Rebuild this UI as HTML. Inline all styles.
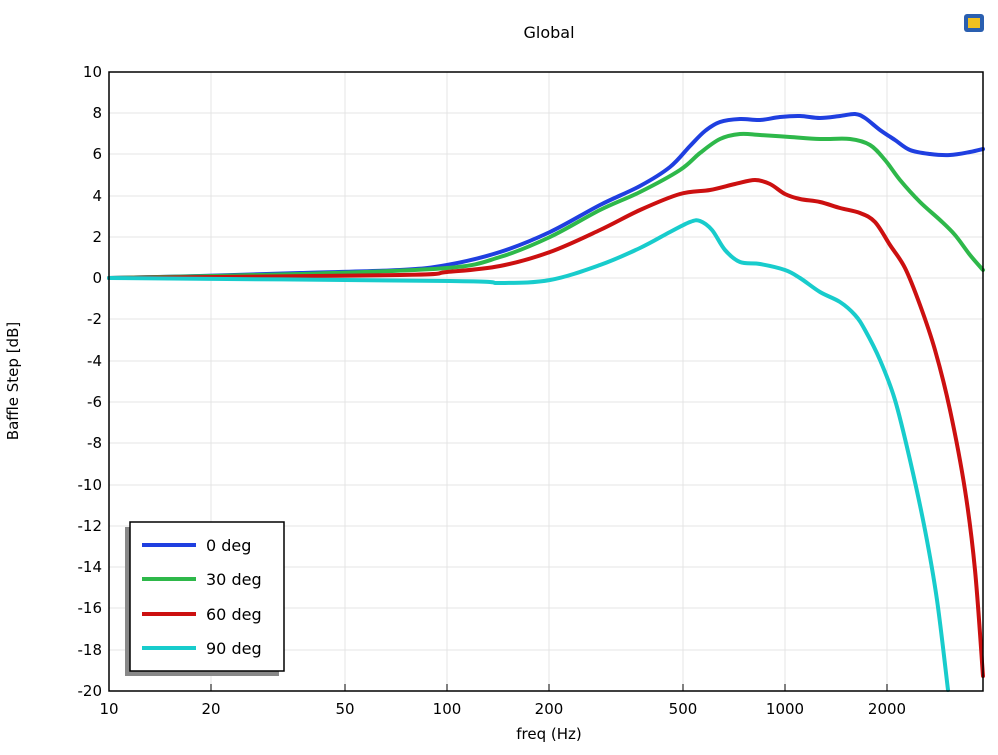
<!DOCTYPE html><html><head><style>body{margin:0;background:#fff}svg{font-family:"DejaVu Sans","Liberation Sans",sans-serif}</style></head><body>
<svg id="s" width="998" height="750" viewBox="0 0 998 750">
<rect width="998" height="750" fill="#fff"/>
<text x="549" y="38" font-size="16" text-anchor="middle">Global</text>
<g stroke="#e4e4e4" stroke-width="1">
<line x1="211" y1="72" x2="211" y2="691"/><line x1="345" y1="72" x2="345" y2="691"/><line x1="447" y1="72" x2="447" y2="691"/><line x1="549" y1="72" x2="549" y2="691"/><line x1="683" y1="72" x2="683" y2="691"/><line x1="785" y1="72" x2="785" y2="691"/><line x1="887" y1="72" x2="887" y2="691"/>
<line x1="109" y1="113" x2="983" y2="113"/><line x1="109" y1="154" x2="983" y2="154"/><line x1="109" y1="196" x2="983" y2="196"/><line x1="109" y1="237" x2="983" y2="237"/><line x1="109" y1="278" x2="983" y2="278"/><line x1="109" y1="319" x2="983" y2="319"/><line x1="109" y1="361" x2="983" y2="361"/><line x1="109" y1="402" x2="983" y2="402"/><line x1="109" y1="443" x2="983" y2="443"/><line x1="109" y1="485" x2="983" y2="485"/><line x1="109" y1="526" x2="983" y2="526"/><line x1="109" y1="567" x2="983" y2="567"/><line x1="109" y1="608" x2="983" y2="608"/><line x1="109" y1="650" x2="983" y2="650"/>
</g>
<g id="curves" fill="none" stroke-width="4" stroke-linejoin="round" stroke-linecap="round">
<polyline stroke="#1f3fe0" points="109,278 200,276 300,273 400,270 447,265 500,252 550,232 600,205 640,186 670,167 690,146 705,131 720,122 740,119 760,120 780,117 800,116 820,118 840,116 855,114 865,118 880,130 895,140 910,150 930,154 950,155 970,152 983,149"/>
<polyline stroke="#2eb84a" points="109,278 300,274 447,268 500,257 550,237 600,210 640,192 680,170 700,153 720,139 740,134 760,135 790,137 820,139 850,139 870,145 885,160 900,180 920,202 940,220 955,235 970,255 983,270"/>
<polyline stroke="#cc1010" points="109,278 400,275 447,272 500,266 550,252 600,230 640,210 680,194 710,190 735,184 755,180 770,184 785,194 800,199 820,202 840,208 860,213 875,222 890,245 905,268 920,305 935,350 950,410 965,490 975,570 983,676"/>
<polyline stroke="#18cccc" points="109,278 450,281 500,283 550,280 600,265 640,248 670,232 690,222 700,221 712,230 725,250 740,262 760,264 785,270 800,278 820,292 840,302 855,315 865,330 880,360 895,400 910,460 925,530 937,600 948,690"/>
</g>
<rect x="109" y="72" width="874" height="619" fill="none" stroke="#000" stroke-width="1.5"/>
<g stroke="#000" stroke-width="1">
<line x1="211" y1="691" x2="211" y2="684"/><line x1="345" y1="691" x2="345" y2="684"/><line x1="447" y1="691" x2="447" y2="684"/><line x1="549" y1="691" x2="549" y2="684"/><line x1="683" y1="691" x2="683" y2="684"/><line x1="785" y1="691" x2="785" y2="684"/><line x1="887" y1="691" x2="887" y2="684"/>
</g>
<g font-size="15" text-anchor="middle">
<text x="109" y="714">10</text><text x="211" y="714">20</text><text x="345" y="714">50</text><text x="447" y="714">100</text><text x="549" y="714">200</text><text x="683" y="714">500</text><text x="785" y="714">1000</text><text x="887" y="714">2000</text>
<text x="549" y="739">freq (Hz)</text>
</g>
<g font-size="15" text-anchor="end">
<text x="102" y="77">10</text><text x="102" y="118">8</text><text x="102" y="159">6</text><text x="102" y="201">4</text><text x="102" y="242">2</text><text x="102" y="283">0</text><text x="102" y="324">-2</text><text x="102" y="366">-4</text><text x="102" y="407">-6</text><text x="102" y="448">-8</text><text x="102" y="490">-10</text><text x="102" y="531">-12</text><text x="102" y="572">-14</text><text x="102" y="613">-16</text><text x="102" y="655">-18</text><text x="102" y="696">-20</text>
</g>
<text transform="translate(18,381) rotate(-90)" font-size="15" text-anchor="middle">Baffle Step [dB]</text>
<rect x="125" y="527" width="154" height="149" fill="#888"/>
<rect x="130" y="522" width="154" height="149" fill="#fff" stroke="#000" stroke-width="1.5"/>
<g stroke-width="4"><line x1="142" y1="545" x2="196" y2="545" stroke="#1f3fe0"/><line x1="142" y1="579" x2="196" y2="579" stroke="#2eb84a"/><line x1="142" y1="614" x2="196" y2="614" stroke="#cc1010"/><line x1="142" y1="648" x2="196" y2="648" stroke="#18cccc"/></g>
<g font-size="16"><text x="206" y="551">0 deg</text><text x="206" y="585">30 deg</text><text x="206" y="620">60 deg</text><text x="206" y="654">90 deg</text></g>
<rect x="964" y="14" width="20" height="18" rx="3" fill="#2a5fb0"/><rect x="968" y="18" width="12" height="10" fill="#f0c020"/>
</svg>
<script>
document.querySelectorAll('#curves polyline').forEach(function(pl){
 var p=pl.getAttribute('points').trim().split(/\s+/).map(function(s){return s.split(',').map(Number);});
 var d='M'+p[0][0]+','+p[0][1];
 for(var i=0;i<p.length-1;i++){
  var a=p[i-1]||p[i],b=p[i],c=p[i+1],e=p[i+2]||c;
  var c1x=b[0]+(c[0]-a[0])/6,c1y=b[1]+(c[1]-a[1])/6,c2x=c[0]-(e[0]-b[0])/6,c2y=c[1]-(e[1]-b[1])/6;
  d+=' C'+c1x+','+c1y+' '+c2x+','+c2y+' '+c[0]+','+c[1];
 }
 var path=document.createElementNS('http://www.w3.org/2000/svg','path');
 path.setAttribute('d',d);path.setAttribute('stroke',pl.getAttribute('stroke'));
 pl.parentNode.replaceChild(path,pl);
});
</script>
</body></html>
